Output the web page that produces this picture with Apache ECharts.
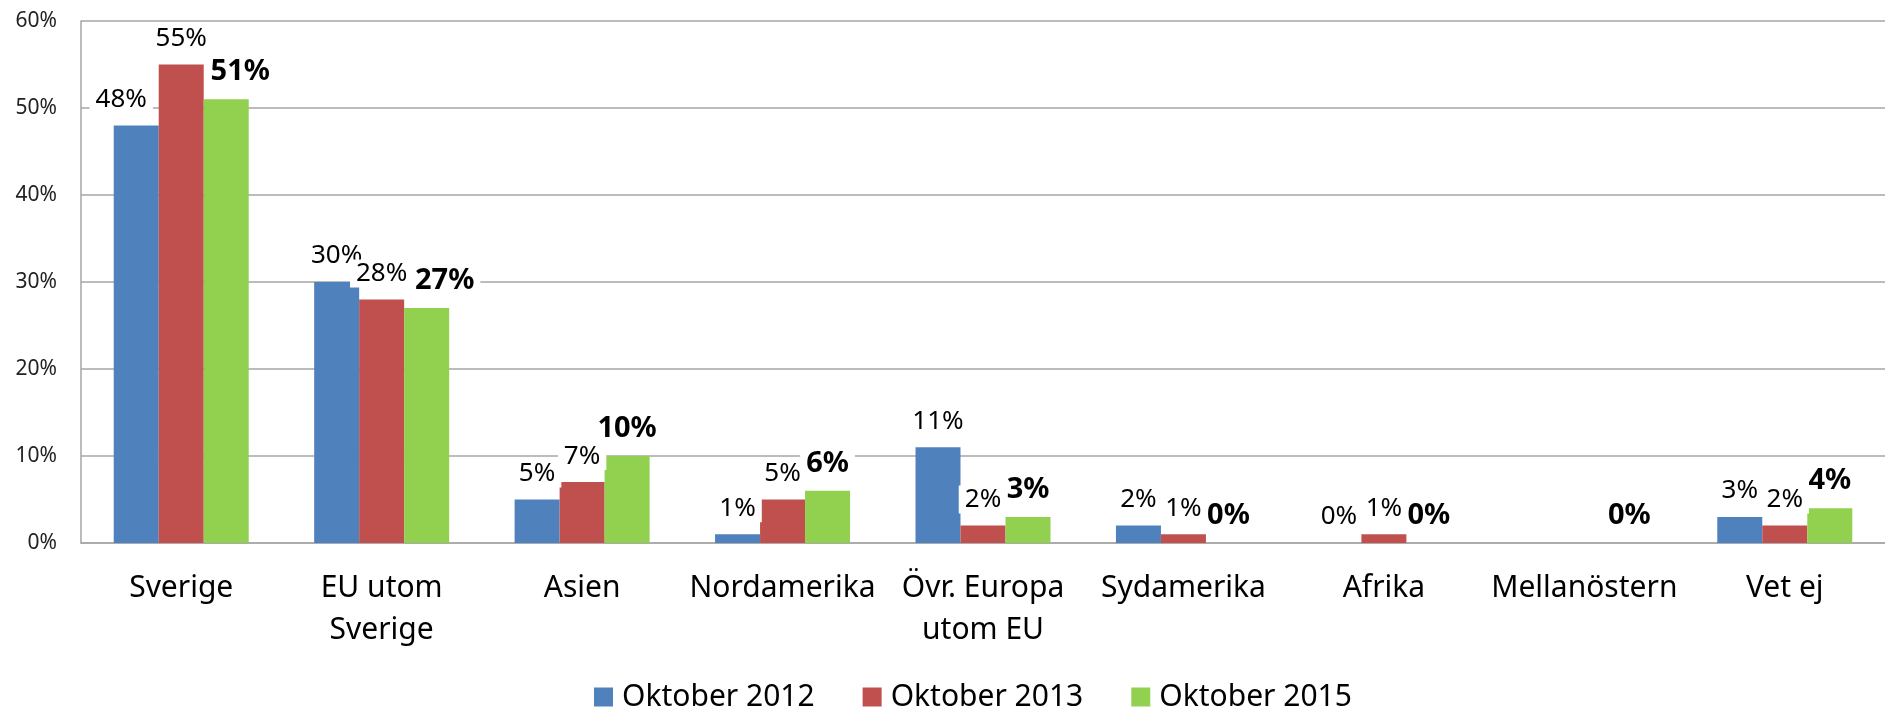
<!DOCTYPE html>
<html>
<head>
<meta charset="utf-8">
<script src="https://cdn.jsdelivr.net/npm/echarts@6/dist/echarts.min.js"></script>
<style>
html,body{margin:0;padding:0;background:#fff;}
#chart{width:1885px;height:708px;}
</style>
</head>
<body>
<div id="chart"></div>
<script>
const categories = ['Sverige', 'EU utom\nSverige', 'Asien', 'Nordamerika', 'Övr. Europa\nutom EU', 'Sydamerika', 'Afrika', 'Mellanöstern', 'Vet ej'];
const seriesNames = ['Oktober 2012', 'Oktober 2013', 'Oktober 2015'];
const oktober2012 = [48, 30, 5, 1, 11, 2, 0, null, 3];
const oktober2013 = [55, 28, 7, 5, 2, 1, 1, null, 2];
const oktober2015 = [51, 27, 10, 6, 3, 0, 0, 0, 4];
const yTickLabels = ['0%', '10%', '20%', '30%', '40%', '50%', '60%'];

const colors = ['#4F81BD', '#C0504D', '#92D050'];
const FONT = '"Noto Sans", "Open Sans", sans-serif';
// manual label nudges (series index -> category index -> dx), as in the original
const labelNudge = { 0: { 0: -15 }, 2: { 0: 14, 1: 18 } };

function buildData(values, si) {
  return values.map((v, ci) => {
    const dx = (labelNudge[si] && labelNudge[si][ci]) || 0;
    if (v === null) return { value: null };
    return dx ? { value: v, label: { offset: [dx, 0] } } : { value: v };
  });
}

const allValues = [oktober2012, oktober2013, oktober2015];
const series = allValues.map((vals, si) => ({
  name: seriesNames[si],
  type: 'bar',
  barWidth: 45,
  barGap: '0%',
  itemStyle: { color: colors[si] },
  data: buildData(vals, si),
  label: {
    show: true,
    position: 'top',
    distance: 12,
    formatter: p => p.value + '%',
    fontFamily: FONT,
    fontSize: si === 2 ? 29 : 26,
    fontWeight: si === 2 ? 'bold' : 'normal',
    color: '#000',
    backgroundColor: '#fff',
    padding: [1, 6]
  }
}));

const chart = echarts.init(document.getElementById('chart'), null, { renderer: 'canvas' });
chart.setOption({
  animation: false,
  backgroundColor: '#fff',
  grid: { left: 81, right: -20, top: 21, bottom: 165, containLabel: false },
  legend: {
    data: seriesNames,
    left: 589,
    top: 677,
    icon: 'rect',
    itemWidth: 19,
    itemHeight: 19,
    itemGap: 48,
    textStyle: { fontFamily: FONT, fontSize: 30, color: '#000', lineHeight: 30, padding: [0, 0, 0, 4] }
  },
  xAxis: {
    type: 'category',
    data: categories,
    axisLine: { show: true, lineStyle: { color: '#a6a6a6', width: 1.5 } },
    axisTick: { show: false },
    axisLabel: {
      interval: 0,
      margin: 24,
      fontFamily: FONT,
      fontSize: 30,
      lineHeight: 42,
      color: '#000'
    }
  },
  yAxis: {
    type: 'value',
    min: 0,
    max: 60,
    interval: 10,
    axisLine: { show: true, lineStyle: { color: '#a6a6a6', width: 1.5 } },
    axisTick: { show: false },
    splitLine: { show: true, lineStyle: { color: '#a6a6a6', width: 1.5 } },
    axisLabel: {
      margin: 24,
      fontFamily: FONT,
      fontSize: 21,
      color: '#222',
      formatter: v => yTickLabels[Math.round(v / 10)]
    }
  },
  series: series
});
</script>
</body>
</html>
